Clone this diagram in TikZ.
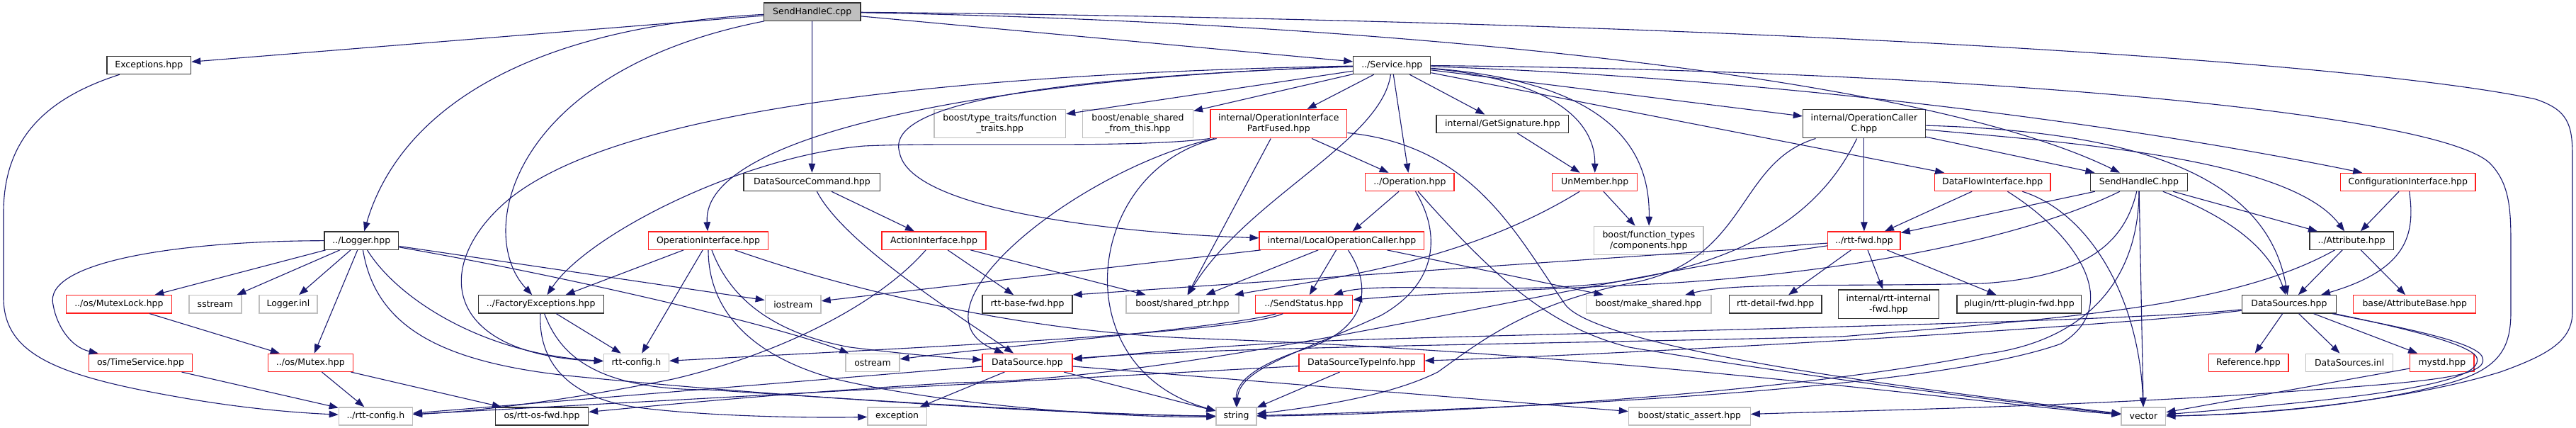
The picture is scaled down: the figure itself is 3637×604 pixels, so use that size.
\documentclass[tikz,border=0pt]{standalone}
\usepackage{fontspec}
\setmainfont{DejaVu Sans}
\usetikzlibrary{arrows.meta,calc}
\definecolor{dxedge}{RGB}{25,25,112}
\definecolor{dxred}{RGB}{255,30,30}
\definecolor{dxgray}{RGB}{191,191,191}
\definecolor{dxblack}{RGB}{50,50,50}
\tikzset{
  box/.style={draw, line width=1.3pt, fill=white, minimum height=25.2pt, inner sep=1pt,
              font=\fontsize{12.5}{15}\selectfont, align=center},
  blk/.style={box, draw=dxblack},
  redb/.style={box, draw=dxred},
  gry/.style={box, draw=dxgray},
  two/.style={minimum height=40.3pt},
  edg/.style={draw=dxedge, line width=1.1pt, -{Triangle[length=13pt,width=9.5pt]}},
}
\begin{document}
\begin{tikzpicture}[x=1pt,y=-1pt]
\useasboundingbox (0,0) rectangle (3637,604);
\fill[white] (0,0) rectangle (3637,604);
% row 0
\node[box, draw=dxblack, fill=dxgray, minimum width=136.4pt] (cpp) at (1146.7,16.6) {SendHandleC.cpp};
% row 1
\node[blk, minimum width=118.6pt] (exc) at (210.3,92) {Exceptions.hpp};
\node[blk, minimum width=109pt] (svc) at (1965.3,92) {../Service.hpp};
% row 2
\node[gry, two, minimum width=185.5pt] (ftt) at (1411.8,174.7) {boost/type\_traits/function\\\_traits.hpp};
\node[gry, two, minimum width=155.8pt] (esft) at (1606.5,174.7) {boost/enable\_shared\\\_from\_this.hpp};
\node[redb, two, minimum width=192.7pt] (oipf) at (1805.3,174.7) {internal/OperationInterface\\PartFused.hpp};
\node[blk, minimum width=186.6pt] (gsig) at (2121.4,174.8) {internal/GetSignature.hpp};
\node[blk, two, minimum width=172.8pt] (occ) at (2631.9,174.7) {internal/OperationCaller\\C.hpp};
% row 3
\node[blk, minimum width=192.7pt] (dsc) at (1146.4,257) {DataSourceCommand.hpp};
\node[redb, minimum width=125.3pt] (op) at (1990.4,257) {../Operation.hpp};
\node[redb, minimum width=119.8pt] (unm) at (2251.7,257) {UnMember.hpp};
\node[redb, minimum width=163.7pt] (dfi) at (2813.2,257) {DataFlowInterface.hpp};
\node[blk, minimum width=137.4pt] (shh) at (3019.9,257) {SendHandleC.hpp};
\node[redb, minimum width=190.6pt] (ci) at (3399.8,257) {ConfigurationInterface.hpp};
% row 4
\node[blk, minimum width=104.8pt] (log) at (510.3,339.6) {../Logger.hpp};
\node[redb, minimum width=169.6pt] (oi) at (1000,339.6) {OperationInterface.hpp};
\node[redb, minimum width=147pt] (ai) at (1318.6,339.6) {ActionInterface.hpp};
\node[redb, minimum width=232.7pt] (loc) at (1894.4,339.6) {internal/LocalOperationCaller.hpp};
\node[gry, two, minimum width=154.2pt] (ftc) at (2327.8,339.5) {boost/function\_types\\/components.hpp};
\node[redb, minimum width=102.4pt] (rfwd) at (2631.9,339.6) {../rtt-fwd.hpp};
\node[blk, minimum width=118.2pt] (attr) at (3320.1,339.6) {../Attribute.hpp};
% row 5
\node[redb, minimum width=149pt] (mlock) at (167.9,429.4) {../os/MutexLock.hpp};
\node[gry, minimum width=74pt] (sstr) at (303.9,429.4) {sstream};
\node[gry, minimum width=82pt] (linl) at (406.9,429.4) {Logger.inl};
\node[blk, minimum width=177pt] (fexc) at (763.7,429.4) {../FactoryExceptions.hpp};
\node[gry, minimum width=78.7pt] (ios) at (1119.7,429.4) {iostream};
\node[blk, minimum width=127pt] (rbf) at (1450.5,429.4) {rtt-base-fwd.hpp};
\node[gry, minimum width=159pt] (sptr) at (1669.4,429.4) {boost/shared\_ptr.hpp};
\node[redb, minimum width=137pt] (sst) at (1841,429.4) {../SendStatus.hpp};
\node[gry, minimum width=176.7pt] (mksh) at (2327.6,429.4) {boost/make\_shared.hpp};
\node[blk, minimum width=130.5pt] (rdf) at (2506.7,429.4) {rtt-detail-fwd.hpp};
\node[blk, two, minimum width=142.4pt] (rif) at (2666.5,429.2) {internal/rtt-internal\\-fwd.hpp};
\node[blk, minimum width=175.6pt] (rpf) at (2850.8,429.4) {plugin/rtt-plugin-fwd.hpp};
\node[blk, minimum width=133.2pt] (dss) at (3231.9,429.4) {DataSources.hpp};
\node[redb, minimum width=173.2pt] (ab) at (3409.2,429.4) {base/AttributeBase.hpp};
% row 6
\node[redb, minimum width=146pt] (ts) at (198.5,511.8) {os/TimeService.hpp};
\node[redb, minimum width=120pt] (mtx) at (438.3,511.8) {../os/Mutex.hpp};
\node[gry, minimum width=92pt] (rcfg) at (898.4,511.8) {rtt-config.h};
\node[gry, minimum width=76pt] (ostr) at (1232,511.8) {ostream};
\node[redb, minimum width=127pt] (ds) at (1450.5,511.8) {DataSource.hpp};
\node[redb, minimum width=177pt] (dsti) at (1922.5,511.8) {DataSourceTypeInfo.hpp};
\node[redb, minimum width=112.7pt] (ref) at (3174.5,511.8) {Reference.hpp};
\node[gry, minimum width=122.6pt] (dsinl) at (3317.1,511.8) {DataSources.inl};
\node[redb, minimum width=90.5pt] (mystd) at (3447.8,511.8) {mystd.hpp};
% row 7
\node[gry, minimum width=104pt] (urcfg) at (530.4,587.5) {../rtt-config.h};
\node[blk, minimum width=131pt] (osf) at (765,587.5) {os/rtt-os-fwd.hpp};
\node[gry, minimum width=83.4pt] (excp) at (1266.6,587.5) {exception};
\node[gry, minimum width=57pt] (str) at (1745.5,587.5) {string};
\node[gry, minimum width=171.8pt] (sa) at (2385.3,587.5) {boost/static\_assert.hpp};
\node[gry, minimum width=62.7pt] (vec) at (3026.4,587.5) {vector};

% ---- edges ----
% SendHandleC.cpp
\draw[edg] (cpp) -- (exc);
\draw[edg] (cpp) .. controls (720,40) and (560,170) .. (log);
\draw[edg] (cpp) .. controls (720,100) and (670,330) .. (fexc);
\draw[edg] (cpp) -- (dsc);
\draw[edg] (cpp) -- (svc);
\draw[edg] (cpp) .. controls (1900,30) and (2700,100) .. (shh);
\draw[edg] (cpp) .. controls (2500,30) and (3350,90) .. (3580,140) .. controls (3625,155) and (3632,175) .. (3632,220) -- (3632,440) .. controls (3632,480) and (3600,500) .. (3530,525) .. controls (3400,565) and (3200,585) .. (vec);
% Service.hpp
\draw[edg] (svc) -- (ftt);
\draw[edg] (svc) -- (esft);
\draw[edg] (svc) -- (oipf);
\draw[edg] (svc) -- (gsig);
\draw[edg] (svc) -- (op);
\draw[edg] (svc) .. controls (2170,110) and (2252,160) .. (unm);
\draw[edg] (svc) .. controls (2260,115) and (2330,200) .. (ftc);
\draw[edg] (svc) -- (occ);
\draw[edg] (svc) -- (dfi);
\draw[edg] (svc) .. controls (2500,110) and (3000,175) .. (ci);
\draw[edg] (svc) .. controls (2800,100) and (3440,160) .. (3515,230) .. controls (3545,260) and (3545,300) .. (3545,350) -- (3545,440) .. controls (3545,490) and (3530,520) .. (3460,540) .. controls (3350,570) and (3200,585) .. (vec);
\draw[edg] (svc) .. controls (1400,110) and (990,190) .. (oi);
\draw[edg] (svc) .. controls (1450,110) and (1250,150) .. (1270,215) .. controls (1285,300) and (1600,330) .. (loc);
\draw[edg] (svc) .. controls (1300,105) and (870,160) .. (720,280) .. controls (610,370) and (620,500) .. (rcfg);
\draw[edg] (svc) .. controls (1950,200) and (1760,280) .. (sptr);
% OperationInterfacePartFused
\draw[edg] (oipf.south west) .. controls (1600,210) and (1350,200) .. (1220,206) .. controls (1050,220) and (830,330) .. (fexc);
\draw[edg] (oipf) .. controls (1520,240) and (1270,440) .. (ds);
\draw[edg] (oipf) .. controls (1530,240) and (1500,520) .. (str);
\draw[edg] (oipf) -- (sptr);
\draw[edg] (oipf) -- (op);
\draw[edg] ($(oipf.south east)+(0,-8)$) .. controls (2080,205) and (2140,330) .. (2210,430) .. controls (2260,495) and (2750,555) .. (vec);
% GetSignature
\draw[edg] (gsig) -- (unm);
% OperationCallerC
\draw[edg] (occ) -- (rfwd);
\draw[edg] (occ) -- (shh);
\draw[edg] (occ) .. controls (2900,200) and (3230,220) .. (attr);
\draw[edg] (occ) .. controls (3000,185) and (3200,240) .. (dss);
\draw[edg] (occ) .. controls (2450,230) and (2470,370) .. (2300,400) .. controls (2150,430) and (2080,490) .. (2030,525) .. controls (1960,560) and (1850,575) .. (str);
\draw[edg] (occ) .. controls (2580,280) and (2500,360) .. (2300,395) .. controls (2150,420) and (1950,395) .. (sst);
% DataSourceCommand
\draw[edg] (dsc) -- (ai);
\draw[edg] (dsc) .. controls (1190,340) and (1330,430) .. (ds);
% Operation
\draw[edg] (op) -- (loc);
\draw[edg] (op) .. controls (2035,330) and (2030,400) .. (1950,445) .. controls (1830,500) and (1750,520) .. (str);
\draw[edg] (op) .. controls (2100,380) and (2180,460) .. (2300,490) .. controls (2600,540) and (2900,575) .. (vec);
% UnMember
\draw[edg] (unm) -- (ftc);
\draw[edg] (unm) .. controls (2060,375) and (1860,395) .. (sptr);
% DataFlowInterface
\draw[edg] (dfi) -- (rfwd);
\draw[edg] (dfi) .. controls (2930,330) and (3000,430) .. (2910,485) .. controls (2700,560) and (2000,580) .. (str);
\draw[edg] (dfi) .. controls (2950,300) and (3020,420) .. (vec);
% SendHandleC.hpp
\draw[edg] (shh) -- (rfwd);
\draw[edg] (shh) .. controls (2850,340) and (2600,385) .. (2350,400) .. controls (2150,410) and (2000,415) .. (sst);
\draw[edg] (shh) .. controls (3000,340) and (2950,390) .. (2800,400) .. controls (2600,405) and (2450,398) .. (mksh);
\draw[edg] (shh) .. controls (3020,380) and (2960,480) .. (2800,500) .. controls (2500,560) and (2000,585) .. (str);
\draw[edg] (shh) -- (vec);
\draw[edg] (shh) .. controls (3130,300) and (3200,340) .. (dss);
\draw[edg] (shh) -- (attr);
% ConfigurationInterface
\draw[edg] (ci) -- (attr);
\draw[edg] (ci) .. controls (3410,330) and (3400,380) .. (dss);
% Attribute
\draw[edg] (attr) -- (dss);
\draw[edg] (attr) -- (ab);
\draw[edg] (attr) .. controls (3150,435) and (2900,450) .. (2600,475) .. controls (2200,485) and (1700,490) .. (ds);
% DataSources
\draw[edg] (dss) -- (ref);
\draw[edg] (dss) -- (dsinl);
\draw[edg] (dss) -- (mystd);
\draw[edg] (dss) .. controls (3350,455) and (3500,480) .. (3505,505) .. controls (3515,535) and (3400,540) .. (3200,555) .. controls (2900,575) and (2600,580) .. (sa);
\draw[edg] (dss) .. controls (3380,460) and (3490,485) .. (3497,505) .. controls (3510,545) and (3300,565) .. (vec);
\draw[edg] (dss) .. controls (3000,455) and (2200,470) .. (1900,480) .. controls (1700,488) and (1600,500) .. (ds);
\draw[edg] (dss) .. controls (3000,460) and (2300,500) .. (dsti);
\draw[edg] (mystd) -- (vec);
% Logger
\draw[edg] (log) .. controls (250,340) and (60,370) .. (75,430) .. controls (80,460) and (100,490) .. (ts);
\draw[edg] (log) -- (mlock);
\draw[edg] (log) -- (sstr);
\draw[edg] (log) -- (linl);
\draw[edg] (log) -- (mtx);
\draw[edg] (log) .. controls (560,420) and (680,500) .. (rcfg);
\draw[edg] (log) .. controls (530,460) and (620,510) .. (800,530) .. controls (1100,560) and (1500,585) .. (str);
\draw[edg] (log) -- (ios);
\draw[edg] (log) .. controls (800,390) and (1100,460) .. (ostr);
% os
\draw[edg] (mlock) -- (mtx);
\draw[edg] (ts) -- (urcfg);
\draw[edg] (mtx) -- (urcfg);
\draw[edg] (mtx) -- (osf);
% Exceptions
\draw[edg] (exc) .. controls (60,140) and (5,200) .. (5,300) -- (5,420) .. controls (5,500) and (80,530) .. (250,560) .. controls (350,578) and (430,583) .. (urcfg);
% FactoryExceptions
\draw[edg] (fexc) -- (rcfg);
\draw[edg] (fexc) .. controls (790,500) and (840,550) .. (1000,550) .. controls (1300,570) and (1550,585) .. (str);
\draw[edg] (fexc) .. controls (760,500) and (790,560) .. (900,575) .. controls (1000,588) and (1150,590) .. (excp);
% OperationInterface
\draw[edg] (oi) -- (fexc);
\draw[edg] (oi) -- (rcfg);
\draw[edg] (oi) .. controls (1000,430) and (1050,500) .. (1180,535) .. controls (1350,575) and (1600,590) .. (str);
\draw[edg] (oi) .. controls (1030,420) and (1090,470) .. (1200,490) .. controls (1280,500) and (1340,505) .. (ds);
\draw[edg] (oi) .. controls (1200,410) and (1450,470) .. (1700,478) .. controls (2300,500) and (2800,570) .. (vec);
% ActionInterface
\draw[edg] (ai) -- (rbf);
\draw[edg] (ai) -- (sptr);
\draw[edg] (ai) .. controls (1240,430) and (1100,500) .. (950,535) .. controls (800,565) and (680,580) .. (urcfg);
% LocalOperationCaller
\draw[edg] (loc) -- (ios);
\draw[edg] (loc) -- (sptr);
\draw[edg] (loc) -- (sst);
\draw[edg] (loc) .. controls (1935,400) and (1935,460) .. (1850,490) .. controls (1770,515) and (1745,540) .. (str);
\draw[edg] (loc) -- (mksh);
% rtt-fwd
\draw[edg] (rfwd) -- (rdf);
\draw[edg] (rfwd) -- (rif);
\draw[edg] (rfwd) -- (rpf);
\draw[edg] (rfwd) -- (rbf.north east);
\draw[edg] (rfwd) .. controls (2200,400) and (1700,535) .. (1350,540) .. controls (1100,555) and (900,575) .. (osf);
% DataSource
\draw[edg] (ds) -- (excp);
\draw[edg] (ds) -- (str);
\draw[edg] (ds) -- (sa);
\draw[edg] (ds) -- (urcfg);
% DataSourceTypeInfo
\draw[edg] (dsti) -- (urcfg);
\draw[edg] (dsti) -- (str);
% SendStatus
\draw[edg] (sst) .. controls (1750,460) and (1400,490) .. (ostr);
\draw[edg] (sst) .. controls (1750,470) and (1300,490) .. (rcfg);
\end{tikzpicture}
\end{document}
